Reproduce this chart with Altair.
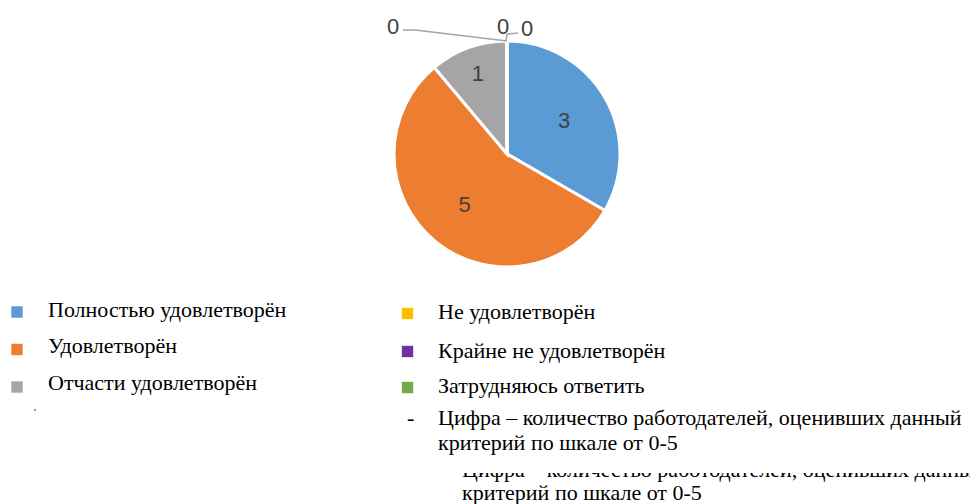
import altair as alt
import pandas as pd

categories = ["Полностью удовлетворён", "Удовлетворён", "Отчасти удовлетворён",
              "Не удовлетворён", "Крайне не удовлетворён", "Затрудняюсь ответить"]
values = [3, 5, 1, 0, 0, 0]
colors = ["#5B9BD5", "#ED7D31", "#A5A5A5", "#FFC000", "#7030A0", "#70AD47"]
note_lines = ["Цифра – количество работодателей, оценивших данный",
              "критерий по шкале от 0-5"]

W, H = 962, 496
CX, CY, R = 499, 146, 113
LABEL_FONT = "Liberation Sans"
SERIF = "Liberation Serif"
FS = 22

df = pd.DataFrame({"cat": categories, "val": values, "ord": list(range(len(categories)))})

color = alt.Color("cat:N", scale=alt.Scale(domain=categories, range=colors), legend=None)
theta = alt.Theta("val:Q", stack=True)
order = alt.Order("ord:Q")

pie = alt.Chart(df).mark_arc(outerRadius=R, stroke="white", strokeWidth=3).encode(
    theta=theta, color=color, order=order, x=alt.value(CX), y=alt.value(CY)
)

def pie_text(expr, radius, dx=0, dy=0):
    return alt.Chart(df).transform_calculate(lab=expr).mark_text(
        radius=radius, dx=dx, dy=dy, font=LABEL_FONT, fontSize=22, color="#404040",
        align="center", baseline="middle"
    ).encode(theta=theta, order=order, detail="cat:N", text="lab:N",
             x=alt.value(CX), y=alt.value(CY))

lab_big = pie_text("datum.val >= 2 ? '' + datum.val : ''", 66)
lab_one = pie_text("datum.val == 1 ? '' + datum.val : ''", 85)
z1 = pie_text("datum.cat == '%s' ? '' + datum.val : ''" % categories[3], 129, dx=-114, dy=2)
z2 = pie_text("datum.cat == '%s' ? '' + datum.val : ''" % categories[4], 129, dx=-4, dy=2)
z3 = pie_text("datum.cat == '%s' ? '' + datum.val : ''" % categories[5], 129, dx=20, dy=4)

lc = "#A5A5A5"
def seg(x1, y1, x2, y2):
    return alt.Chart(df.head(1)).mark_rule(color=lc, strokeWidth=1.5).encode(
        x=alt.value(x1), y=alt.value(y1), x2=alt.value(x2), y2=alt.value(y2))

leaders = [seg(395, 22, 407, 22), seg(407, 22, CX, CY - R),
           seg(CX - 1, CY - R, CX, 26), seg(CX, 26, 510, 25)]

# legend (custom, two columns)
leg = pd.DataFrame({
    "cat": categories,
    "sx": [9, 9, 9, 399.5, 399.5, 399.5],
    "sy": [304, 341.5, 379, 305.5, 343.5, 379.5],
    "tx": [40, 40, 40, 430, 430, 430],
    "ty": [309, 345, 382, 311, 350, 385],
})
leg_sq = alt.Chart(leg).mark_square(size=130, opacity=1).encode(
    x=alt.X("sx:Q", scale=None), y=alt.Y("sy:Q", scale=None), color=color)
leg_tx = alt.Chart(leg).mark_text(font=SERIF, fontSize=FS, color="black",
                                  align="left", baseline="alphabetic").encode(
    x=alt.X("tx:Q", scale=None), y=alt.Y("ty:Q", scale=None), text="cat:N")

notes = pd.DataFrame({
    "t": ["-", note_lines[0], note_lines[1], note_lines[0], note_lines[1]],
    "x": [399, 430, 430, 454, 454],
    "y": [417, 417, 442, 469, 492],
    "grp": ["main", "main", "main", "ghost", "ghost"],
})
ghost_tx = alt.Chart(notes).transform_filter("datum.grp == 'ghost'").mark_text(
    font=SERIF, fontSize=FS, color="black", align="left", baseline="alphabetic").encode(
    x=alt.X("x:Q", scale=None), y=alt.Y("y:Q", scale=None), text="t:N")
cover = alt.Chart(df.head(1)).mark_rect(color="white").encode(
    x=alt.value(440), x2=alt.value(W), y=alt.value(448), y2=alt.value(465))
main_tx = alt.Chart(notes).transform_filter("datum.grp == 'main'").mark_text(
    font=SERIF, fontSize=FS, color="black", align="left", baseline="alphabetic").encode(
    x=alt.X("x:Q", scale=None), y=alt.Y("y:Q", scale=None), text="t:N")
dot = alt.Chart(df.head(1)).mark_square(size=4, color="#999999", opacity=1).encode(
    x=alt.value(27), y=alt.value(402))

chart = alt.layer(
    pie, lab_big, lab_one, z1, z2, z3, *leaders,
    leg_sq, leg_tx, ghost_tx, cover, main_tx, dot
).properties(width=W, height=H, autosize="none", padding=0).configure_view(stroke=None)

chart.save("out.html", embed_options={"renderer": "svg", "actions": False})
